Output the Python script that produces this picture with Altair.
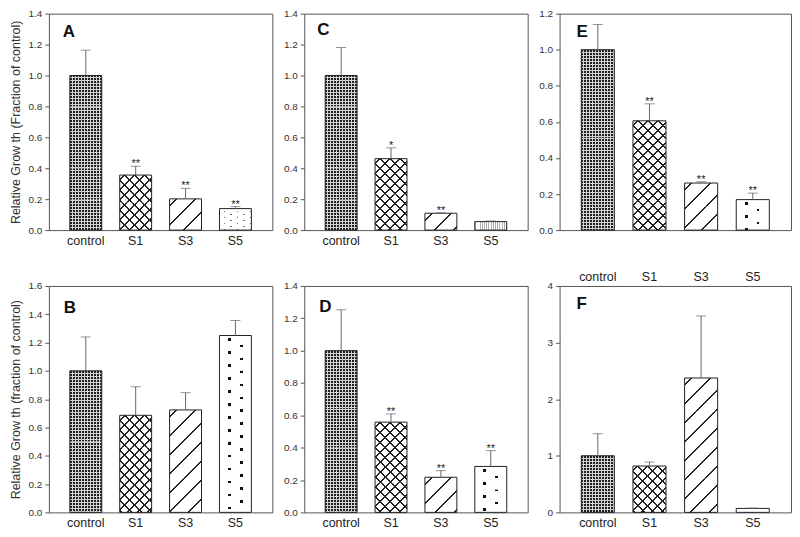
import math
import altair as alt
import pandas as pd

categories = ["control", "S1", "S3", "S5"]

A_values = [1.0, 0.356, 0.202, 0.139]
A_errors = [0.164, 0.057, 0.068, 0.013]
A_stars = ["", "**", "**", "**"]

C_values = [1.0, 0.462, 0.109, 0.055]
C_errors = [0.181, 0.070, 0.003, 0.004]
C_stars = ["", "*", "**", ""]

E_values = [1.0, 0.606, 0.261, 0.169]
E_errors = [0.140, 0.094, 0.007, 0.036]
E_stars = ["", "**", "**", "**"]

B_values = [1.0, 0.686, 0.724, 1.250]
B_errors = [0.240, 0.202, 0.122, 0.106]
B_stars = ["", "", "", ""]

D_values = [1.0, 0.558, 0.217, 0.284]
D_errors = [0.253, 0.051, 0.041, 0.098]
D_stars = ["", "**", "**", "**"]

F_values = [1.0, 0.819, 2.374, 0.070]
F_errors = [0.390, 0.071, 1.096, 0.007]
F_stars = ["", "", "", ""]

ticks_14 = [0.0, 0.2, 0.4, 0.6, 0.8, 1.0, 1.2, 1.4]
ticks_12 = [0.0, 0.2, 0.4, 0.6, 0.8, 1.0, 1.2]
ticks_16 = [0.0, 0.2, 0.4, 0.6, 0.8, 1.0, 1.2, 1.4, 1.6]
ticks_4 = [0, 1, 2, 3, 4]

title_A = "Relative Grow th (Fraction of control)"
title_B = "Relative Grow th (fraction of control)"

FONT = "Liberation Sans"
CLEAR = "rgba(255,255,255,0)"
PAD_IN = 0.36
PAD_OUT = 0.42
SEG_MAX = 36.0  # longest piece (px) a hatch gradient has to cover
HATCH_W = 2.0   # hatch line width, in (px + py) units


def stripes(w, h, nx, ny, period, width, fg, bg, phase=0.0, off=0.0):
    """Linear gradient (bounding-box units) drawing parallel stripes.
    off = vertical pixel offset of this piece inside its bar, so that
    stripes continue across the pieces of one bar."""
    phase = phase - ny * off
    corners = [(0.0, 0.0), (1.0, 0.0), (0.0, 1.0), (1.0, 1.0)]
    fvals = [nx * w * u + ny * h * v for (u, v) in corners]
    fmin, fmax = min(fvals), max(fvals)
    p1 = corners[fvals.index(fmin)]
    G = (nx * w, ny * h)
    G2 = G[0] ** 2 + G[1] ** 2
    R = fmax - fmin
    if R < 1e-6 or G2 < 1e-9:
        return bg
    lam = R / G2
    x1, y1 = p1
    x2, y2 = x1 + lam * G[0], y1 + lam * G[1]
    stops = [{"offset": 0, "color": bg}]
    k = math.floor((fmin - phase) / period) - 1
    while True:
        a = k * period + phase
        if a > fmax:
            break
        b = a + width
        ta = (a - fmin) / R
        tb = (b - fmin) / R
        k += 1
        if tb <= 0 or ta >= 1:
            continue
        ta = max(ta, 0.0)
        tb = min(tb, 1.0)
        stops += [{"offset": round(ta, 5), "color": bg},
                  {"offset": round(ta, 5), "color": fg},
                  {"offset": round(tb, 5), "color": fg},
                  {"offset": round(tb, 5), "color": bg}]
    stops.append({"offset": 1, "color": bg})
    return {"gradient": "linear", "x1": round(x1, 5), "y1": round(y1, 5),
            "x2": round(x2, 5), "y2": round(y2, 5), "stops": stops}


def dot_layers(w, h, off, colsp, rowsp, d, x0, y0, color):
    """Staggered square dots: columns x0 + i*colsp, rows y0 + j*rowsp,
    keeping only the points with i + j even."""
    a, b = 2 * colsp, 2 * rowsp
    return [
        stripes(w, h, 1, 0, colsp, d, color, "white", x0 - d / 2, off),
        stripes(w, h, 0, 1, rowsp, d, CLEAR, "white", y0 - d / 2, off),
        stripes(w, h, 1 / a, 1 / b, 1.0, 0.4, CLEAR, "white",
                x0 / a + y0 / b - 0.2, off),
    ]


def fills_for(cat, style, w, h, off):
    if h < 1:
        return ["white"]
    if cat == "control":
        return [stripes(w, h, 1, 0, 3.0, 2.0, "#202020", "#d4d4d4", 0, off),
                stripes(w, h, 0, 1, 3.0, 2.0, CLEAR, "#d4d4d4", 0, off)]
    if cat == "S1":
        return [stripes(w, h, 1, 1, 10.0, HATCH_W, "#222222", "white", 4.0, off),
                stripes(w, h, 1, -1, 10.0, HATCH_W, "#222222", CLEAR, 4.0, off)]
    if cat == "S3":
        return [stripes(w, h, 1, 1, 19.0, HATCH_W, "#222222", "white", 6.0, off)]
    if style == "bigdots":
        return dot_layers(w, h, off, 12.0, 6.5, 2.6, 10.0, 4.0, "#111111")
    if style == "smalldots":
        return dot_layers(w, h, off, 6.5, 3.0, 1.4, 5.0, 3.0, "#777777")
    if style == "vlines":
        return [stripes(w, h, 1, 0, 2.2, 1.0, "#b0b0b0", "white", 0.5, off)]
    return ["white"]


def panel(letter, values, errors, stars, ymax, ticks, fmt, ytitle, W, H,
          s5_style, letter_dx, letter_offset, xlabel_pad=4, title_pad=6):
    df = pd.DataFrame({"category": categories, "value": values,
                       "err": errors, "star": stars})
    df["top"] = df["value"] + df["err"]
    bw = (1 - PAD_IN) * W / (4 - PAD_IN + 2 * PAD_OUT)

    # pieces of each bar, each with its own pattern gradient(s)
    pieces = []
    for i, c in enumerate(categories):
        v = values[i]
        h = v / ymax * H
        n = max(1, math.ceil(h / SEG_MAX))
        for s in range(n):
            hi = v * (1 - s / n)
            lo = v * (1 - (s + 1) / n)
            for st, g in enumerate(fills_for(c, s5_style, bw, h / n, s * h / n)):
                pieces.append({"category": c, "hi": hi, "lo": lo,
                               "stage": st, "grad": g})
    pdata = alt.Data(values=pieces)

    xaxis = alt.Axis(title=None, labelAngle=0, ticks=False, domain=False,
                     labelPadding=xlabel_pad, labelFontSize=12.5,
                     labelColor="#222222", labelFont=FONT)
    yaxis = alt.Axis(title=ytitle, values=ticks, format=fmt, tickSize=4,
                     labelPadding=3, labelFontSize=10, labelColor="#333333",
                     labelFont=FONT, titleFont=FONT, titleFontSize=12.5,
                     titleFontWeight="normal", titleColor="#333333",
                     titlePadding=title_pad, domain=False, grid=False,
                     tickColor="#555555")
    xs = alt.Scale(paddingInner=PAD_IN, paddingOuter=PAD_OUT)
    ys = alt.Scale(domain=[0, ymax], nice=False, zero=True)
    xenc = alt.X("category:N", sort=categories, scale=xs, axis=xaxis)
    yenc = alt.Y("value:Q", scale=ys, axis=yaxis)
    ytop = alt.Y("top:Q", scale=ys, axis=yaxis)
    yhi = alt.Y("hi:Q", scale=ys, axis=yaxis)

    base = alt.Chart(df)
    layers = []
    for st in range(3):
        layers.append(
            alt.Chart(pdata).transform_filter(alt.datum.stage == st)
            .mark_bar(strokeWidth=0)
            .encode(x=xenc, y=yhi, y2="lo:Q",
                    fill=alt.Fill("grad:N", scale=None, legend=None))
        )
    layers.append(base.mark_bar(filled=False, color="#222222", strokeWidth=1)
                  .encode(x=xenc, y=yenc))
    layers.append(base.mark_rule(color="#666666", strokeWidth=1)
                  .encode(x=xenc, y=yenc, y2="top:Q"))
    layers.append(base.mark_tick(color="#666666", size=10, thickness=1)
                  .encode(x=xenc, y=ytop))
    layers.append(base.transform_filter(alt.datum.star != "")
                  .mark_text(fontSize=11, font=FONT, color="#222222",
                             baseline="alphabetic", dy=1)
                  .encode(x=xenc, y=ytop, text="star:N"))
    return alt.layer(*layers).properties(
        width=W, height=H,
        title=alt.TitleParams(text=letter, anchor="start", frame="group",
                              orient="top", baseline="top",
                              offset=letter_offset, dx=letter_dx,
                              fontSize=17, font=FONT, fontWeight="bold",
                              color="#111111"),
    )


pA = panel("A", A_values, A_errors, A_stars, 1.4, ticks_14, ".1f", title_A,
           224, 217, "smalldots", 14, -32)
pC = panel("C", C_values, C_errors, C_stars, 1.4, ticks_14, ".1f", None,
           224, 217, "vlines", 13, -30)
pE = panel("E", E_values, E_errors, E_stars, 1.2, ticks_12, ".1f", None,
           232, 217, "bigdots", 17, -32, xlabel_pad=41)
pB = panel("B", B_values, B_errors, B_stars, 1.6, ticks_16, ".1f", title_B,
           224, 227, "bigdots", 15, -36)
pD = panel("D", D_values, D_errors, D_stars, 1.4, ticks_14, ".1f", None,
           224, 227, "bigdots", 15, -35)
pF = panel("F", F_values, F_errors, F_stars, 4, ticks_4, "d", None,
           232, 227, "plain", 17, -32)

chart = (
    alt.concat(pA, pC, pE, pB, pD, pF, columns=3,
               spacing={"row": 56, "column": 32}, bounds="flush")
    .properties(padding={"left": 0, "top": -1, "right": 0, "bottom": 0},
                background="white")
    .configure_view(stroke="#555555", strokeWidth=1)
)

chart.save("out.html", embed_options={"renderer": "svg", "actions": False})
